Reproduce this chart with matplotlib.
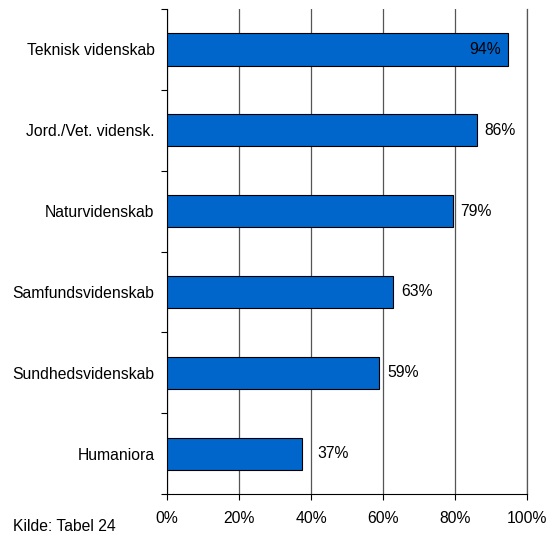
import numpy as np
import matplotlib.pyplot as plt
from matplotlib.ticker import FixedLocator, PercentFormatter

plt.rcParams['font.family'] = ['Liberation Sans', 'DejaVu Sans']
plt.rcParams['font.size'] = 11.3

categories = ['Teknisk videnskab', 'Jord./Vet. vidensk.', 'Naturvidenskab',
              'Samfundsvidenskab', 'Sundhedsvidenskab', 'Humaniora']
values = [94.7, 86.0, 79.4, 62.8, 58.9, 37.4]
labels = ['94%', '86%', '79%', '63%', '59%', '37%']

fig = plt.figure(figsize=(5.49, 5.33), dpi=100)
ax = fig.add_axes([0.3042, 0.073, 0.656, 0.910])

y = np.arange(len(categories))
ax.barh(y, values, height=0.4, color='#0066CC', edgecolor='black', linewidth=0.8, zorder=3)

for i, (v, lab) in enumerate(zip(values, labels)):
    if v > 90:
        ax.annotate(lab, (v, i), xytext=(-5, 0), textcoords='offset points',
                    ha='right', va='center', zorder=4)
    elif v < 40:
        ax.annotate(lab, (v, i), xytext=(11, 0), textcoords='offset points',
                    ha='left', va='center', zorder=4)
    else:
        ax.annotate(lab, (v, i), xytext=(5.6, 0), textcoords='offset points',
                    ha='left', va='center', zorder=4)

ax.set_xlim(0, 100)
ax.set_ylim(len(categories) - 0.5, -0.5)
ax.set_xticks([0, 20, 40, 60, 80, 100])
ax.xaxis.set_major_formatter(PercentFormatter(decimals=0))
ax.set_yticks(y)
ax.set_yticklabels(categories)
ax.yaxis.set_minor_locator(FixedLocator(np.arange(-0.5, len(categories), 1)))
ax.tick_params(axis='y', which='major', length=0, pad=9)
ax.tick_params(axis='y', which='minor', length=4, direction='out', width=0.8)
ax.tick_params(axis='x', length=4, direction='out', width=0.8, pad=8)
ax.grid(axis='x', color='#555555', linewidth=0.9, zorder=0)
ax.spines['top'].set_visible(False)
ax.spines['right'].set_color('#555555')
ax.spines['right'].set_linewidth(0.9)

fig.text(0.024, 0.013, 'Kilde: Tabel 24', ha='left', va='center')

fig.savefig('out.png', dpi=100)
